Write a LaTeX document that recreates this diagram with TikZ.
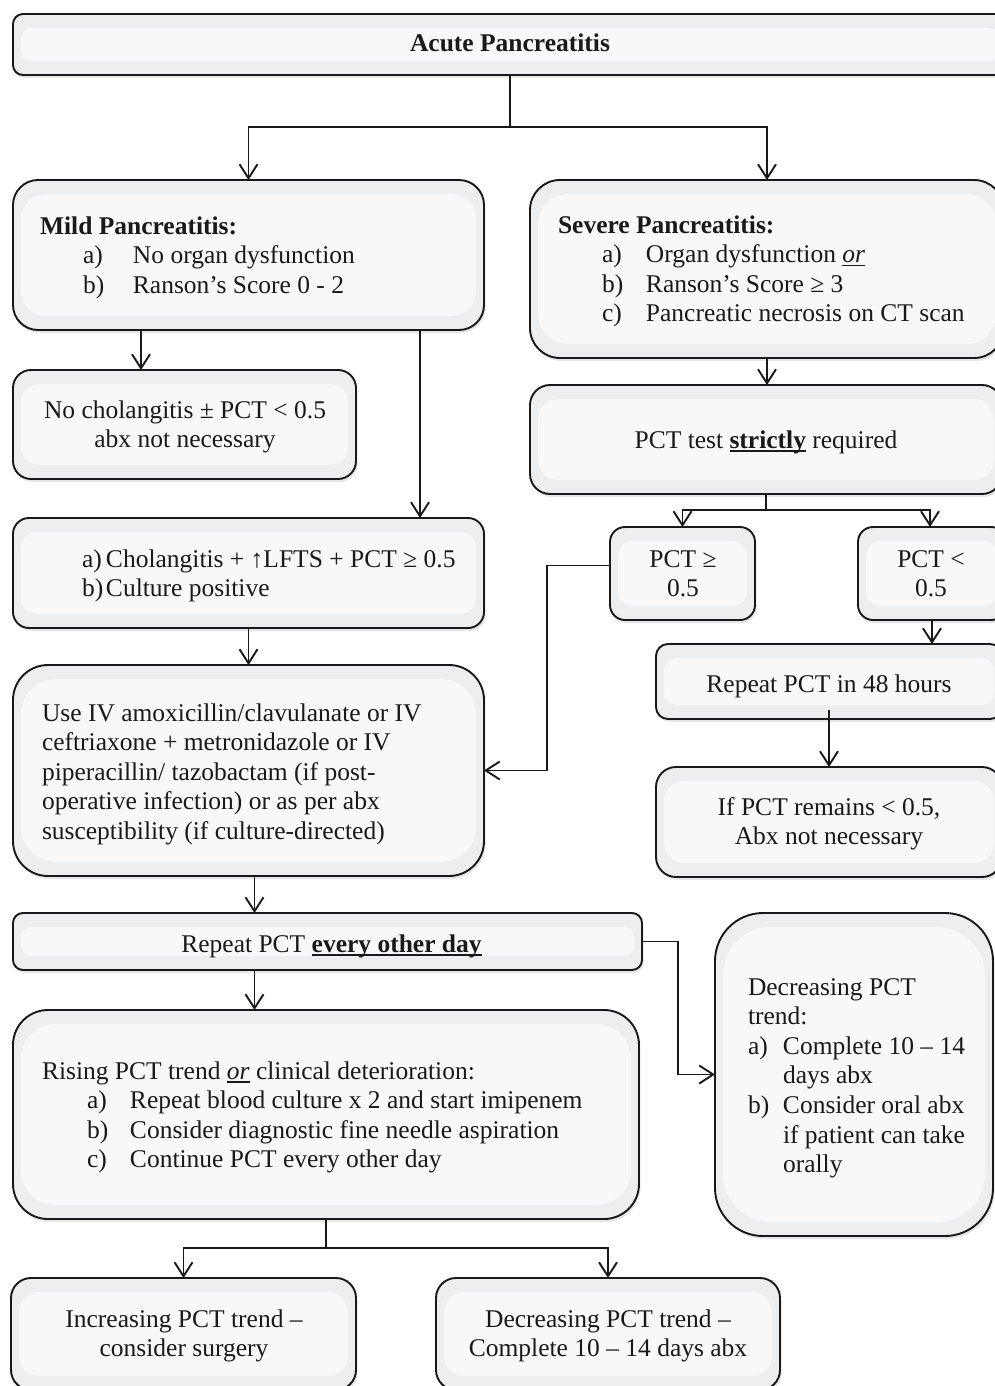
\documentclass[tikz,border=0pt]{standalone}
\usepackage{fontspec}
\setmainfont{Liberation Serif}
\usetikzlibrary{arrows.meta,shadows}
\definecolor{boxout}{RGB}{237,238,240}
\definecolor{boxin}{RGB}{248,248,248}
\definecolor{ink}{RGB}{25,25,25}
\newcommand\itm[3]{\hspace*{#1}\makebox[#2][l]{#3}}
\newcommand\ulx[1]{\setbox0=\hbox{#1}\rlap{\rule[-3.5pt]{\wd0}{1.6pt}}\box0\relax}
\begin{document}
\begin{tikzpicture}[x=1pt,y=-1pt,
  bx/.style={draw=ink, line width=1.9pt, fill=boxout, inner sep=0pt, outer sep=0pt,
    drop shadow={shadow xshift=1.5pt,shadow yshift=-3pt,opacity=0.2},
    path picture={\fill[boxin] ([shift={(8pt,-14pt)}]path picture bounding box.north west) rectangle ([shift={(-8pt,14pt)}]path picture bounding box.south east);}},
  txt/.style={inner sep=0pt, outer sep=0pt, font=\fontsize{25.5}{29.6}\selectfont, text=ink},
  ln/.style={draw=ink, line width=1.9pt},
  arr/.style={draw=ink, line width=1.9pt, -{Straight Barb[length=14pt,width=18pt]}}]
\useasboundingbox (0,0) rectangle (994,1386);
% boxes
\node[bx, rounded corners=10pt, minimum width=994pt, minimum height=61pt] (acute) at (510,44.5) {};
\node[bx, rounded corners=25pt, minimum width=471pt, minimum height=150pt] (mild) at (248.5,255) {};
\node[bx, rounded corners=30pt, minimum width=474pt, minimum height=178pt] (severe) at (767,269) {};
\node[bx, rounded corners=18pt, minimum width=343pt, minimum height=109pt] (nochol) at (184.5,424.5) {};
\node[bx, rounded corners=20pt, minimum width=472pt, minimum height=109pt] (pcttest) at (766,439.5) {};
\node[bx, rounded corners=16pt, minimum width=471pt, minimum height=110pt] (chol) at (248.5,573) {};
\node[bx, rounded corners=15pt, minimum width=145pt, minimum height=93pt] (pctge) at (682.5,573.5) {};
\node[bx, rounded corners=15pt, minimum width=148pt, minimum height=93pt] (pctlt) at (932,573.5) {};
\node[bx, rounded corners=12pt, minimum width=346pt, minimum height=75pt] (rep48) at (829,681.5) {};
\node[bx, rounded corners=20pt, minimum width=346pt, minimum height=110pt] (ifpct) at (829,822) {};
\node[bx, rounded corners=35pt, minimum width=471pt, minimum height=211pt] (iv) at (248.5,770.5) {};
\node[bx, rounded corners=10pt, minimum width=629pt, minimum height=57pt] (repeat) at (327.5,941.5) {};
\node[bx, rounded corners=48pt, minimum width=278pt, minimum height=323pt] (decr) at (854,1074.5) {};
\node[bx, rounded corners=35pt, minimum width=626pt, minimum height=209pt] (rising) at (326,1114.5) {};
\node[bx, rounded corners=20pt, minimum width=345pt, minimum height=112pt] (incr) at (183.5,1334) {};
\node[bx, rounded corners=20pt, minimum width=344pt, minimum height=112pt] (decb) at (608,1334) {};
% connectors
\coordinate (j1) at (510,127);
\draw[ln] (acute.south) -- (j1);
\draw[arr] (j1) -| (mild.north);
\draw[arr] (j1) -| (severe.north);
\draw[arr] ([xshift=128pt]mild.south west) -- ([xshift=128pt]nochol.north west);
\draw[arr] ([xshift=-64pt]mild.south east) -- ([xshift=-64pt]chol.north east);
\draw[arr] (severe.south) -- (severe.south |- pcttest.north);
\coordinate (j2) at (766,510);
\draw[ln] (pcttest.south) -- (j2);
\draw[arr] (j2) -| (pctge.north);
\draw[arr] (j2) -| ([xshift=-2pt]pctlt.north);
\draw[arr] (pctlt.south) -- (pctlt.south |- rep48.north);
\draw[arr] ([yshift=9pt]rep48.south) -- (ifpct.north);
\draw[arr] ([yshift=8pt]pctge.west) -- ++(-63,0) |- (iv.east);
\draw[arr] (chol.south) -- (iv.north);
\draw[arr] ([xshift=6pt]iv.south) -- ([xshift=6pt]iv.south |- repeat.north);
\draw[arr] ([xshift=-73pt]repeat.south) -- ([xshift=-73pt]repeat.south |- rising.north);
\draw[arr] (repeat.east) -- ++(36,0) |- (decr.west);
\coordinate (j3) at (326,1248);
\draw[ln] (rising.south) -- (j3);
\draw[arr] (j3) -| (incr.north);
\draw[arr] (j3) -| (decb.north);
% texts
\node[txt, anchor=base] (tacute) at (510,52) {\textbf{Acute Pancreatitis}};
\node[txt, anchor=base west] (tmild) at (40,234) {\begin{tabular}[t]{@{}l@{}}
\textbf{Mild Pancreatitis:}\\
\itm{43pt}{50pt}{a)}No organ dysfunction\\
\itm{43pt}{50pt}{b)}Ranson’s Score 0 - 2
\end{tabular}};
\node[txt, anchor=base west] (tsev) at (558,233) {\begin{tabular}[t]{@{}l@{}}
\textbf{Severe Pancreatitis:}\\
\itm{44pt}{44pt}{a)}Organ dysfunction \ulx{\textit{or}}\\
\itm{44pt}{44pt}{b)}Ranson’s Score ≥ 3\\
\itm{44pt}{44pt}{c)}Pancreatic necrosis on CT scan
\end{tabular}};
\node[txt, anchor=base] (tnochol) at (185,418) {\begin{tabular}[t]{@{}c@{}}
No cholangitis ± PCT < 0.5\\ abx not necessary
\end{tabular}};
\node[txt, anchor=base] (tpcttest) at (766,448) {PCT test \ulx{\textbf{strictly}} required};
\node[txt, anchor=base west] (tchol) at (82,567) {\begin{tabular}[t]{@{}l@{}}
\makebox[24pt][l]{a)}Cholangitis + ↑LFTS + PCT ≥ 0.5\\
\makebox[24pt][l]{b)}Culture positive
\end{tabular}};
\node[txt, anchor=base] (tpctge) at (683,567) {\begin{tabular}[t]{@{}c@{}}PCT ≥\\ 0.5\end{tabular}};
\node[txt, anchor=base] (tpctlt) at (931,567) {\begin{tabular}[t]{@{}c@{}}PCT <\\ 0.5\end{tabular}};
\node[txt, anchor=base] (trep48) at (829,692) {Repeat PCT in 48 hours};
\node[txt, anchor=base] (tifpct) at (829,815) {\begin{tabular}[t]{@{}c@{}}
If PCT remains < 0.5,\\ Abx not necessary
\end{tabular}};
\node[txt, anchor=base west] (tiv) at (42,721) {\begin{tabular}[t]{@{}l@{}}
Use IV amoxicillin/clavulanate or IV\\
ceftriaxone + metronidazole or IV\\
piperacillin/ tazobactam (if post-\\
operative infection) or as per abx\\
susceptibility (if culture-directed)
\end{tabular}};
\node[txt, anchor=base] (trepeat) at (331.5,952) {Repeat PCT \ulx{\textbf{every other day}}};
\node[txt, anchor=base west] (tdecr) at (748,995) {\begin{tabular}[t]{@{}l@{}}
Decreasing PCT\\
trend:\\
\makebox[35pt][l]{a)}Complete 10 – 14\\
\hspace*{35pt}days abx\\
\makebox[35pt][l]{b)}Consider oral abx\\
\hspace*{35pt}if patient can take\\
\hspace*{35pt}orally
\end{tabular}};
\node[txt, anchor=base west] (trising) at (42,1079) {\begin{tabular}[t]{@{}l@{}}
Rising PCT trend \ulx{\textit{or}} clinical deterioration:\\
\itm{45pt}{43pt}{a)}Repeat blood culture x 2 and start imipenem\\
\itm{45pt}{43pt}{b)}Consider diagnostic fine needle aspiration\\
\itm{45pt}{43pt}{c)}Continue PCT every other day
\end{tabular}};
\node[txt, anchor=base] (tincr) at (184,1327) {\begin{tabular}[t]{@{}c@{}}
Increasing PCT trend –\\ consider surgery
\end{tabular}};
\node[txt, anchor=base] (tdecb) at (608,1327) {\begin{tabular}[t]{@{}c@{}}
Decreasing PCT trend –\\ Complete 10 – 14 days abx
\end{tabular}};
\end{tikzpicture}
\end{document}
